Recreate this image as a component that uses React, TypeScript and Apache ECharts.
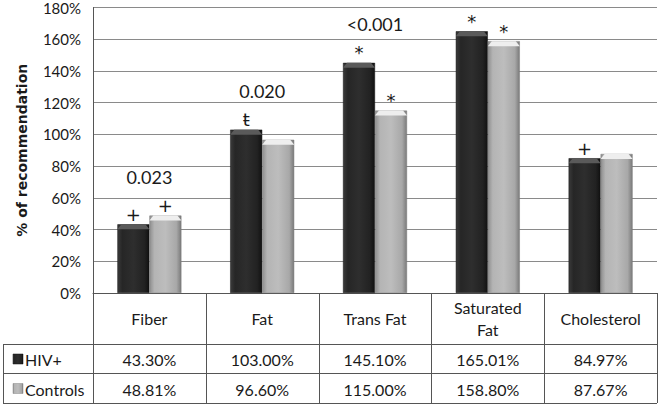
import React, { useEffect, useRef } from "react";
import * as echarts from "echarts";

const categories = ["Fiber", "Fat", "Trans Fat", "Saturated\nFat", "Cholesterol"];
const hivValues = [43.3, 103.0, 145.1, 165.01, 84.97];
const controlValues = [48.81, 96.6, 115.0, 158.8, 87.67];
const hivMarks = ["+", "ŧ", "*", "*", "+"];
const controlMarks = ["+", "", "*", "*", ""];
const pValues = ["0.023", "0.020", "<0.001", "", ""];
const seriesNames = ["HIV+", "Controls"];
const yTicks = { min: 0, max: 180, interval: 20 };

const FONT = "Lato, 'Liberation Sans', sans-serif";
const GRID_L = 93;
const GRID_R = 657;
const GRID_T = 6;
const AXIS_Y = 293;
const ROW1 = 344;
const ROW2 = 373;
const ROW3 = 403;
const TABLE_L = 3;

const darkGrad = new echarts.graphic.LinearGradient(0, 0, 1, 0, [
  { offset: 0, color: "#3a3a3a" },
  { offset: 0.15, color: "#262626" },
  { offset: 0.5, color: "#2e2e2e" },
  { offset: 0.85, color: "#222" },
  { offset: 1, color: "#111" },
]);
const lightGrad = new echarts.graphic.LinearGradient(0, 0, 1, 0, [
  { offset: 0, color: "#8e8e8e" },
  { offset: 0.15, color: "#b4b4b4" },
  { offset: 0.5, color: "#bdbdbd" },
  { offset: 0.85, color: "#a8a8a8" },
  { offset: 1, color: "#7a7a7a" },
]);

const fmt = (v: number) => v.toFixed(2) + "%";

export default function App() {
  const ref = useRef<HTMLDivElement>(null);
  useEffect(() => {
    if (!ref.current) return;
    const chart = echarts.init(ref.current, undefined, { renderer: "svg" });
    const colW = (GRID_R - GRID_L) / categories.length;

    const graphics: any[] = [];
    const lineStyle = { stroke: "#555", lineWidth: 1 };
    [ROW1, ROW2, ROW3].forEach((y) =>
      graphics.push({ type: "line", shape: { x1: TABLE_L, y1: y + 0.5, x2: GRID_R, y2: y + 0.5 }, style: lineStyle, silent: true })
    );
    graphics.push({ type: "line", shape: { x1: TABLE_L + 0.5, y1: ROW1, x2: TABLE_L + 0.5, y2: ROW3 }, style: lineStyle, silent: true });
    for (let k = 0; k <= categories.length; k++) {
      const x = Math.round(GRID_L + k * colW) + 0.5;
      graphics.push({ type: "line", shape: { x1: x, y1: AXIS_Y, x2: x, y2: ROW3 }, style: lineStyle, silent: true });
    }
    const rows = [hivValues, controlValues];
    const rowCenters = [(ROW1 + ROW2) / 2 + 1, (ROW2 + ROW3) / 2 + 1];
    rows.forEach((vals, r) => {
      vals.forEach((v, i) => {
        graphics.push({
          type: "text",
          x: GRID_L + colW * (i + 0.5),
          y: rowCenters[r],
          style: { text: fmt(v), fontSize: 16, fontFamily: FONT, fill: "#1a1a1a", align: "center", verticalAlign: "middle" },
          silent: true,
        });
      });
      graphics.push({
        type: "rect",
        shape: { x: 13, y: rowCenters[r] - 5.5, width: 10, height: 10 },
        style: { fill: r === 0 ? darkGrad : lightGrad, stroke: r === 0 ? "#111" : "#888", lineWidth: 0.5 },
        silent: true,
      });
      graphics.push({
        type: "text",
        x: 25,
        y: rowCenters[r],
        style: { text: seriesNames[r], fontSize: 16, fontFamily: FONT, fill: "#1a1a1a", align: "left", verticalAlign: "middle" },
        silent: true,
      });
    });

    const maxVals = categories.map((_, i) => Math.max(hivValues[i], controlValues[i]));

    const capSeries = (vals: number[], side: number, capColor: string) => ({
      type: "custom",
      silent: true,
      z: 5,
      data: vals.map((v, i) => [i, v]),
      renderItem: (params: any, api: any) => {
        const p = api.coord([api.value(0), api.value(1)]);
        const x0 = side < 0 ? p[0] - 32 : p[0];
        const x1 = x0 + 32;
        const t = p[1];
        return {
          type: "polygon",
          shape: { points: [[x0, t + 5], [x0 + 4, t], [x1 - 4, t], [x1, t + 5]] },
          style: { fill: capColor, stroke: "none" },
        };
      },
    });

    const markLabel = (marks: string[]) => ({
      show: true,
      position: "top",
      distance: 1,
      formatter: (p: any) => marks[p.dataIndex],
      fontSize: 18,
      fontFamily: "'DejaVu Sans', sans-serif",
      color: "#1a1a1a",
    });

    chart.setOption({
      animation: false,
      grid: { left: GRID_L, right: 660 - GRID_R, top: GRID_T, bottom: 407 - AXIS_Y, containLabel: false },
      xAxis: {
        type: "category",
        data: categories,
        axisLine: { show: true, lineStyle: { color: "#555", width: 1 } },
        axisTick: { show: false },
        axisLabel: {
          interval: 0,
          margin: 25,
          verticalAlign: "middle",
          fontSize: 16,
          lineHeight: 22,
          fontFamily: FONT,
          color: "#1a1a1a",
        },
        splitLine: { show: false },
      },
      yAxis: {
        type: "value",
        min: yTicks.min,
        max: yTicks.max,
        interval: yTicks.interval,
        name: "% of recommendation",
        nameLocation: "middle",
        nameGap: 64,
        nameTextStyle: { fontSize: 14, fontWeight: "bold", fontFamily: "'DejaVu Sans', sans-serif", color: "#1a1a1a" },
        axisLine: { show: true, lineStyle: { color: "#555", width: 1 } },
        axisTick: { show: false },
        axisLabel: { formatter: "{value}%", fontSize: 15, fontFamily: FONT, color: "#1a1a1a", margin: 12 },
        splitLine: { show: true, lineStyle: { color: "#8a8a8a", width: 1 } },
      },
      series: [
        {
          name: seriesNames[0],
          type: "bar",
          data: hivValues,
          barWidth: 32,
          barGap: "0%",
          itemStyle: { color: darkGrad, borderColor: "#111", borderWidth: 0.5 },
          label: markLabel(hivMarks),
        },
        {
          name: seriesNames[1],
          type: "bar",
          data: controlValues,
          barWidth: 32,
          barGap: "0%",
          itemStyle: { color: lightGrad, borderColor: "#7a7a7a", borderWidth: 0.5 },
          label: markLabel(controlMarks),
        },
        capSeries(hivValues, -1, "#5a5a5a"),
        capSeries(controlValues, 1, "#eeeeee"),
        {
          type: "scatter",
          data: maxVals,
          symbolSize: 0,
          silent: true,
          itemStyle: { opacity: 1 },
          label: {
            show: true,
            position: "top",
            distance: 30,
            formatter: (p: any) => pValues[p.dataIndex],
            fontSize: 18,
            fontFamily: FONT,
            color: "#1a1a1a",
          },
        },
      ],
      graphic: graphics,
    });
    return () => chart.dispose();
  }, []);
  return <div ref={ref} style={{ position: "fixed", left: 0, top: 0, width: 660, height: 407, background: "#fff" }} />;
}
